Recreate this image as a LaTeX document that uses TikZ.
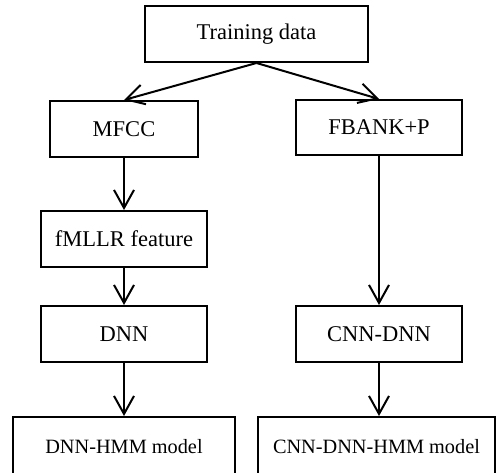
\documentclass[tikz,border=0pt]{standalone}
\usepackage{fontspec}
\setmainfont{Liberation Serif}
\usetikzlibrary{arrows.meta}
\begin{document}
\begin{tikzpicture}[x=1pt,y=-1pt,
  box/.style={draw=black,line width=2pt,inner sep=0pt,anchor=center,
    font=\fontsize{22.5}{26}\selectfont},
  smallbox/.style={box,font=\fontsize{20.3}{24}\selectfont},
  arr/.style={line width=2pt,-{Straight Barb[length=18pt,width=20pt,line width=2pt]}}]
\useasboundingbox (0,0) rectangle (501,473);
\clip (0,0) rectangle (501,473);
\node[box,minimum width=223pt,minimum height=56pt] (train) at (256.5,34) {Training data};
\node[box,minimum width=148pt,minimum height=56pt] (mfcc) at (124,129) {MFCC};
\node[box,minimum width=166pt,minimum height=55pt] (fbank) at (379,127.5) {FBANK+P};
\node[box,minimum width=166pt,minimum height=56pt] (fmllr) at (124,239) {fMLLR feature};
\node[box,minimum width=166pt,minimum height=56pt] (dnn) at (124,334) {DNN};
\node[box,minimum width=166pt,minimum height=56pt] (cnndnn) at (379,334) {CNN-DNN};
\node[smallbox,minimum width=222pt,minimum height=60pt] (dnnhmm) at (124,447) {DNN-HMM model};
\node[smallbox,minimum width=237pt,minimum height=60pt] (cnnhmm) at (376.5,447) {CNN-DNN-HMM model};
\draw[arr] (train.south) -- (mfcc.north);
\draw[arr] (train.south) -- (fbank.north);
\draw[arr] (mfcc.south) -- (fmllr.north);
\draw[arr] (fmllr.south) -- (dnn.north);
\draw[arr] (fbank.south) -- (cnndnn.north);
\draw[arr] (dnn.south) -- (dnnhmm.north);
\draw[arr] (cnndnn.south) -- (cnndnn.south |- cnnhmm.north);
\end{tikzpicture}
\end{document}
